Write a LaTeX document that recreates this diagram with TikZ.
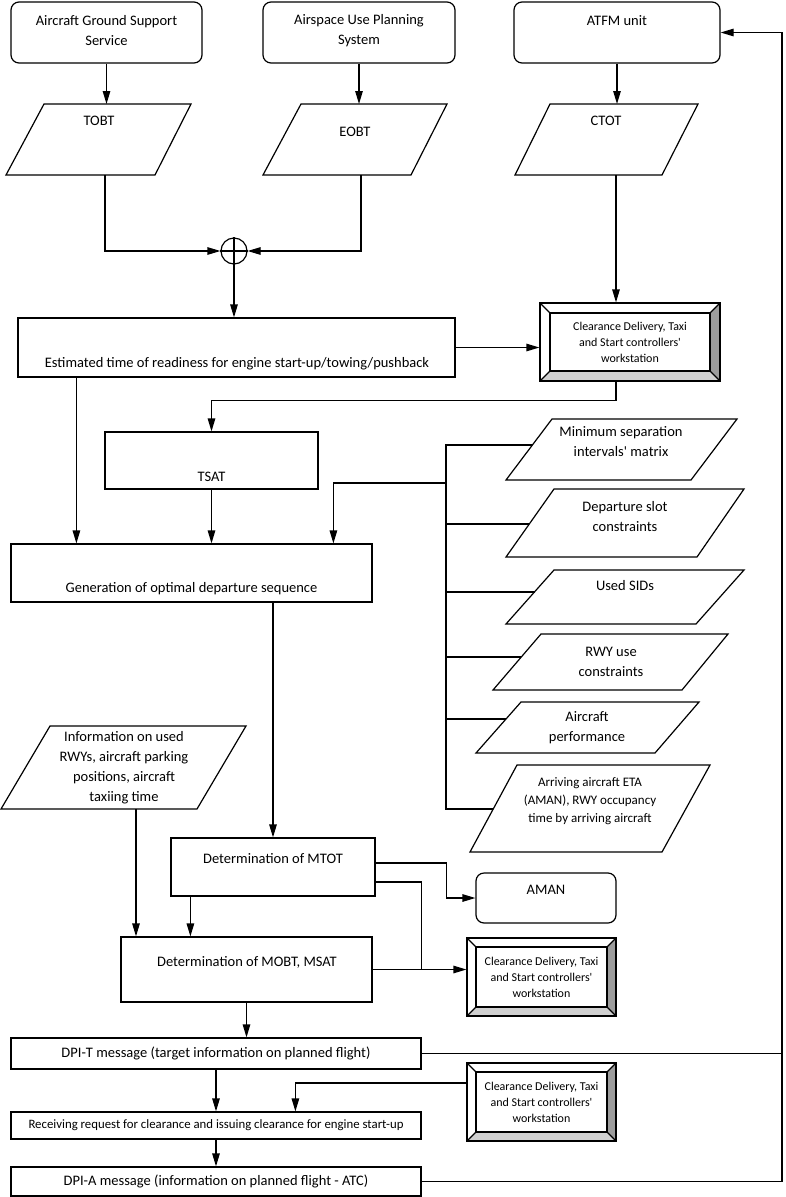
\documentclass[tikz,border=0pt]{standalone}
\usepackage{fontspec}
\setmainfont{Carlito}
\usetikzlibrary{arrows.meta,calc}
\definecolor{bevR}{HTML}{9C9C9C}
\definecolor{bevB}{HTML}{D0D0D0}
\tikzset{
  line/.style={line width=1.2pt},
  arr/.style={line, -{Triangle[length=13pt,width=7.5pt]}},
  box/.style={draw, line width=1.2pt, rectangle, inner sep=0pt},
  rbox/.style={box, rounded corners=8pt},
  para/.style={draw, line width=1.2pt, line join=miter},
  txt/.style={align=center, font=\fontsize{14.5}{20}\selectfont, inner sep=0pt},
  smalltxt/.style={align=center, font=\fontsize{13}{18}\selectfont, inner sep=0pt},
  wstext/.style={align=center, font=\fontsize{12}{16}\selectfont},
}
\newcommand\bevelbox[7]{%
  \pgfmathsetmacro\bxa{#2-#4/2}\pgfmathsetmacro\bxb{#2+#4/2}%
  \pgfmathsetmacro\bya{#3-#5/2}\pgfmathsetmacro\byb{#3+#5/2}%
  \pgfmathsetmacro\bxc{\bxa+#6}\pgfmathsetmacro\bxd{\bxb-#6}%
  \pgfmathsetmacro\byc{\bya+#6}\pgfmathsetmacro\byd{\byb-#6}%
  \fill[bevR] (\bxb,\bya) -- (\bxd,\byc) -- (\bxd,\byd) -- (\bxb,\byb) -- cycle;
  \fill[bevB] (\bxa,\byb) -- (\bxc,\byd) -- (\bxd,\byd) -- (\bxb,\byb) -- cycle;
  \draw[line] (\bxa,\bya) -- (\bxc,\byc) (\bxb,\bya) -- (\bxd,\byc)
              (\bxa,\byb) -- (\bxc,\byd) (\bxb,\byb) -- (\bxd,\byd);
  \draw[line] (\bxc,\byc) rectangle (\bxd,\byd);
  \node[box, wstext, minimum width=#4pt, minimum height=#5pt] (#1) at (#2,#3) {#7};
}
\begin{document}
\begin{tikzpicture}[x=1pt,y=-1pt]
\useasboundingbox (0,0) rectangle (785,1197);
% ---------- top sources
\node[rbox, minimum width=191pt, minimum height=61pt] (ags) at (106.5,32.5) {};
\node[txt] (ags-t) at (106.5,31) {Aircraft Ground Support\\Service};
\node[rbox, minimum width=192pt, minimum height=61pt] (aups) at (359,32.5) {};
\node[txt] (aups-t) at (359,31) {Airspace Use Planning\\System};
\node[rbox, minimum width=206pt, minimum height=61pt] (atfm) at (617,32.5) {};
\node[txt] (atfm-t) at (617,21) {ATFM unit};
% ---------- parallelograms row
\draw[para] (44,104) -- (191,104) -- (155,175) -- (6,175) -- cycle;
\node[txt] (tobt) at (99,121) {TOBT};
\coordinate (tobt-n) at (106.5,104); \coordinate (tobt-s) at (105,175);
\draw[para] (301,104) -- (447,104) -- (411,175) -- (263,175) -- cycle;
\node[txt] (eobt) at (355,132) {EOBT};
\coordinate (eobt-n) at (359,104); \coordinate (eobt-s) at (361,175);
\draw[para] (550,104) -- (698,104) -- (662,175) -- (515,175) -- cycle;
\node[txt] (ctot) at (606,121) {CTOT};
\coordinate (ctot-n) at (617,104); \coordinate (ctot-s) at (616,175);
\draw[arr] (ags.south) -- (tobt-n);
\draw[arr] (aups.south) -- (eobt-n);
\draw[arr] (atfm.south) -- (ctot-n);
% ---------- summing junction
\node[draw, line, circle, minimum size=26pt, inner sep=0pt] (circ) at (234,251) {};
\draw[line] (circ.north) -- (circ.south) (circ.west) -- (circ.east);
\draw[arr] (tobt-s) |- (circ.west);
\draw[arr] (eobt-s) |- (circ.east);
% ---------- estimated time box
\node[box, minimum width=437pt, minimum height=59pt] (est) at (236.5,347.5) {};
\node[txt] (est-t) at (237,364) {Estimated time of readiness for engine start-up/towing/pushback};
\draw[arr] (circ.south) -- (circ.south |- est.north);
% ---------- workstation 1
\bevelbox{ws1}{630}{342}{180}{78}{10}{Clearance Delivery, Taxi\\and Start controllers\textquotesingle\\workstation}
\draw[arr] (ctot-s) -- (ctot-s |- ws1.north);
\draw[arr] (est.east) -- (est.east -| ws1.west);
% ---------- TSAT
\node[box, minimum width=213pt, minimum height=57pt] (tsat) at (211.5,460.5) {};
\node[txt] (tsat-t) at (211.5,477) {TSAT};
\coordinate (ws1-out) at (ws1.south -| ctot-s);
\draw[arr] (ws1-out) -- ++(0,19) -| (tsat.north);
% ---------- generation
\node[box, minimum width=361pt, minimum height=58pt] (gen) at (191.5,573) {};
\node[txt] (gen-t) at (191.5,589) {Generation of optimal departure sequence};
\draw[arr] ([xshift=59pt]est.south west) -- ([xshift=66pt]gen.north west);
\draw[arr] (tsat.south) -- (tsat.south |- gen.north);
% ---------- constraint inputs
\draw[para] (552,419) -- (737,419) -- (691,480) -- (506,480) -- cycle;
\node[txt] (ms) at (621,441.5) {Minimum separation\\intervals\textquotesingle{} matrix};
\coordinate (ms-in) at (532,445);
\draw[para] (554,489) -- (744,489) -- (697,557) -- (506,557) -- cycle;
\node[txt] (ds) at (625,516.5) {Departure slot\\constraints};
\coordinate (ds-in) at (529,524);
\draw[para] (554,570) -- (744,570) -- (696,624) -- (506,624) -- cycle;
\node[txt] (sid) at (625,586) {Used SIDs};
\coordinate (sid-in) at (534.5,592);
\draw[para] (541,634) -- (728,634) -- (682,690) -- (493,690) -- cycle;
\node[txt] (rwy) at (611,661.5) {RWY use\\constraints};
\coordinate (rwy-in) at (521,657);
\draw[para] (521,702) -- (699,702) -- (655,753) -- (476,753) -- cycle;
\node[txt] (ap) at (587,728) {Aircraft\\performance};
\coordinate (ap-in) at (506,719);
\draw[para] (517,765) -- (710,765) -- (662,852) -- (470,852) -- cycle;
\node[smalltxt] (ar) at (590,801) {Arriving aircraft ETA\\(AMAN), RWY occupancy\\time by arriving aircraft};
\coordinate (ar-in) at (493,809);
\coordinate (bus-top) at (446,445);
\coordinate (bus-bot) at (446,809);
\coordinate (bus-gen) at (446,483);
\draw[line] (ms-in) -- (bus-top) -- (bus-bot) -- (ar-in);
\foreach \c in {ds-in,sid-in,rwy-in,ap-in} \draw[line] (\c) -- (\c -| bus-top);
\draw[arr] (bus-gen) -| ([xshift=323pt]gen.north west);
% ---------- information input
\draw[para] (50,726) -- (246,726) -- (197,809) -- (1,809) -- cycle;
\node[txt] (info) at (124,768) {Information on used\\RWYs, aircraft parking\\positions, aircraft\\taxiing time};
\coordinate (info-s) at (136,809);
% ---------- MTOT
\node[box, minimum width=204pt, minimum height=58pt] (mtot) at (273,867) {};
\node[txt] (mtot-t) at (273,859) {Determination of MTOT};
\draw[arr] (gen.south -| mtot.north) -- (mtot.north);
\node[rbox, minimum width=140pt, minimum height=50pt] (aman) at (546,898) {};
\node[txt] (aman-t) at (546,890) {AMAN};
\draw[arr] ([yshift=4pt]mtot.east) -- ++(71,0) |- (aman.west);
% ---------- MOBT
\node[box, minimum width=251pt, minimum height=65pt] (mobt) at (246.5,969.5) {};
\node[txt] (mobt-t) at (247,962) {Determination of MOBT, MSAT};
\draw[arr] ([xshift=20pt]mtot.south west) -- ([xshift=70pt]mobt.north west);
\draw[arr] (info-s) -- (info-s |- mobt.north);
\bevelbox{ws2}{541.5}{977}{149}{78}{9}{Clearance Delivery, Taxi\\and Start controllers\textquotesingle\\workstation}
\draw[arr] (mobt.east) -- (mobt.east -| ws2.west);
\draw[line] ([yshift=-15pt]mtot.east) -- ++(46,0) coordinate (jn) -- (jn |- mobt.east);
% ---------- messages
\node[box, txt, minimum width=410pt, minimum height=31pt] (dpit) at (216,1053.5) {DPI-T message (target information on planned flight)};
\draw[arr] (mobt.south) -- (mobt.south |- dpit.north);
\bevelbox{ws3}{541.5}{1102}{149}{78}{9}{Clearance Delivery, Taxi\\and Start controllers\textquotesingle\\workstation}
\node[box, align=center, font=\fontsize{12.8}{14}\selectfont, minimum width=410pt, minimum height=27pt] (recv) at (216,1125.5) {Receiving request for clearance and issuing clearance for engine start-up};
\draw[arr] (dpit.south) -- (recv.north);
\draw[arr] ([yshift=19pt]ws3.west) -| ([xshift=285pt]recv.north west);
\node[box, txt, minimum width=410pt, minimum height=29pt] (dpia) at (216,1181.5) {DPI-A message (information on planned flight - ATC)};
\draw[arr] (recv.south) -- (dpia.north);
\coordinate (rail) at (782,1053.5);
\draw[line] (dpit.east) -- (rail);
\draw[arr] (dpia.east) -| (rail) |- (atfm.east);
\end{tikzpicture}
\end{document}
